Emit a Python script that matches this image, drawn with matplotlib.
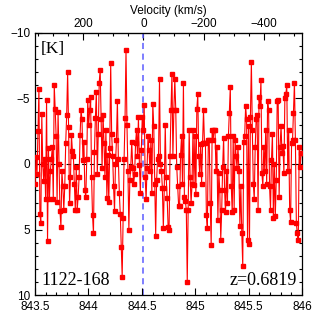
import numpy as np
import matplotlib
matplotlib.use("Agg")
import matplotlib.pyplot as plt
from matplotlib.ticker import MultipleLocator

# line temperature [K], left to right, 40 channels per chunk
seg1 = [1.5, -0.5, 0.8, -2.5, -5.7, 3.8, 4.5, -3.8, 0.0, 1.3,
        -0.4, 2.7, -4.9, 5.9, -1.2, 2.7, 0.5, -0.4, -1.3, 2.7,
        -6.0, -4.2, -2.1, 2.9, -4.0, 0.0, 3.6, 4.8, 0.5, 1.7,
        3.5, 1.7, -1.6, -3.7, -7.0, -2.8, 3.0, 1.0, -2.2, -1.0]
seg2 = [-0.6, 1.5, 3.5, 0.2, 3.5, 2.5, 1.0, -2.2, -4.1, -3.4,
        -0.3, -1.7, 2.0, 2.5, -0.4, -4.9, -3.0, -4.1, -5.1, 1.0,
        3.9, 5.3, -0.9, -3.5, -5.5, 0.8, -2.3, -6.2, -7.2, -3.4,
        0.3, -3.7, -1.6, 1.0, -2.6, 2.6, -0.7, 2.9, -1.2, -7.7]
seg3 = [-2.3, -0.6, 1.7, 3.6, 0.0, -1.8, -4.8, -0.4, 2.2, 3.8,
        6.3, 8.6, 4.1, -0.4, -3.5, -8.7, -3.0, 0.5, 5.0, 1.2,
        0.2, -1.7, 0.3, 1.5, 0.8, -1.6, -2.6, -0.6, -3.6, 0.1,
        2.2, -1.1, -3.6, -2.6, -4.5, 1.0, 2.7, 0.3, -2.1, -1.1]
seg4 = [0.5, -1.8, 2.2, -4.6, -2.9, 1.5, 5.5, 1.2, -0.4, -0.6,
        -6.5, 0.0, 0.5, 1.8, 4.9, 1.8, -3.0, 1.0, 2.6, 4.8,
        5.0, -0.6, -4.1, -6.9, -0.6, -4.1, -6.5, -4.1, 0.2, 1.7,
        3.2, 3.2, -0.7, -2.1, 1.5, -6.2, 2.5, 2.8, 3.5, 9.0]
seg5 = [3.5, -2.6, 1.0, 3.0, 1.5, -2.6, 1.6, -2.1, 2.3, -4.2,
        -5.3, -0.6, 0.8, -1.5, 1.5, -1.6, -4.1, -1.6, -1.6, 3.9,
        4.9, -1.8, -1.8, 3.0, 6.2, -2.6, -1.8, -2.6, -2.6, 0.5,
        -1.3, 4.3, 0.7, 2.0, 5.8, 3.5, 0.2, -2.0, 2.0, 3.7]
seg6 = [0.5, 3.0, -2.1, -3.9, -5.9, 1.7, 3.7, -2.1, 3.5, -1.8,
        -0.6, 0.3, -1.3, 0.5, 4.7, 1.7, 5.3, 7.8, -1.7, -2.1,
        -4.4, -3.4, 5.8, -2.9, 6.1, -3.6, -7.8, -2.6, 1.5, 2.7,
        -1.3, -3.4, -3.7, 3.5, -5.1, -4.4, -6.4, 0.7, 1.7, -1.3]
seg7 = [0.5, -2.6, 1.5, -4.8, -4.1, 1.7, 3.5, -0.3, -2.3, 4.1,
        0.0, 4.0, 1.2, -4.8, -4.9, 2.5, -1.3, -2.9, -0.8, -1.4,
        0.7, -5.0, -5.3, -6.0, 0.5, -2.6, 3.5, 4.4, -1.6, -1.8,
        -3.9, -6.2, -1.8, 4.5, 5.3, 5.8, -1.3, 0.2, -0.8, -0.8]

temp = np.array(seg1 + seg2 + seg3 + seg4 + seg5 + seg6 + seg7)
freq_min, freq_max = 843.5, 846.0
freq = np.linspace(freq_min, freq_max, len(temp))  # evenly spaced channels

nu0 = 844.515        # GHz, velocity zero
c_kms = 299792.458
source = "1122-168"
redshift = "z=0.6819"

def f2v(f):
    return c_kms * (nu0 - f) / nu0

def v2f(v):
    return nu0 * (1 - v / c_kms)

fig = plt.figure(figsize=(3.19, 3.19), dpi=100)
ax = fig.add_axes([0.110, 0.075, 0.837, 0.822])

ax.axhline(0, color="black", ls=(0, (4, 3)), lw=0.8, zorder=1)
ax.axvline(nu0, color="#5b5bff", ls=(0, (4, 3)), lw=1.1, zorder=1)
ax.plot(freq, temp, color="red", lw=0.8, marker="s", ms=2.8,
        mec="red", mfc="red", zorder=3)

ax.set_xlim(freq_min, freq_max)
ax.set_ylim(10, -10)

sans = "Liberation Sans"
serif = "Liberation Serif"

ax.xaxis.set_major_locator(MultipleLocator(0.5))
ax.xaxis.set_minor_locator(MultipleLocator(0.1))
ax.yaxis.set_major_locator(MultipleLocator(5))
ax.yaxis.set_minor_locator(MultipleLocator(1))
ax.xaxis.set_major_formatter(plt.FuncFormatter(lambda v, p: f"{v:g}"))
ax.yaxis.set_major_formatter(plt.FuncFormatter(
    lambda v, p: f"{int(v)}".replace("-", "\u2212")))
ax.tick_params(which="both", direction="in", top=False, right=True,
               width=0.8, labelsize=8.5)
ax.tick_params(axis="x", pad=4)
ax.tick_params(which="major", length=5)
ax.tick_params(which="minor", length=2.5)
for lab in ax.get_xticklabels() + ax.get_yticklabels():
    lab.set_family(sans)

sec = ax.secondary_xaxis("top", functions=(f2v, v2f))
sec.set_xticks([200, 0, -200, -400])
sec.xaxis.set_minor_locator(MultipleLocator(50))
sec.xaxis.set_major_formatter(plt.FuncFormatter(
    lambda v, p: f"{int(round(v))}".replace("-", "\u2212")))
sec.tick_params(which="both", direction="in", width=0.8, labelsize=8.5, pad=2)
sec.tick_params(which="major", length=5)
sec.tick_params(which="minor", length=2.5)
for lab in sec.get_xticklabels():
    lab.set_family(sans)
sec.set_xlabel("Velocity (km/s)", fontsize=8.5, family=sans, labelpad=3)

for s in ax.spines.values():
    s.set_linewidth(0.9)

ax.text(0.02, 0.97, "[K]", transform=ax.transAxes, ha="left", va="top",
        fontsize=12.5, family=serif)
ax.text(0.025, 0.025, source, transform=ax.transAxes, ha="left", va="bottom",
        fontsize=13, family=serif)
ax.text(0.98, 0.025, redshift, transform=ax.transAxes, ha="right", va="bottom",
        fontsize=13, family=serif)

fig.savefig("out.png", dpi=100)
